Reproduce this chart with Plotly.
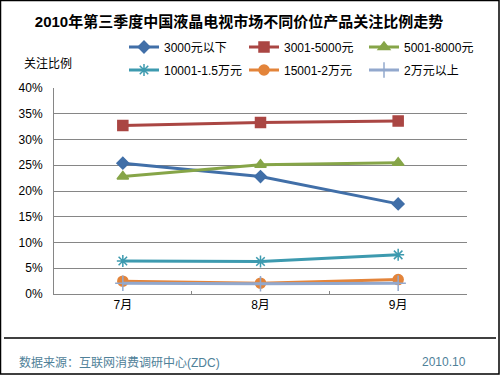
import plotly.graph_objects as go

months = ["7月", "8月", "9月"]
series_names = ["3000元以下", "3001-5000元", "5001-8000元", "10001-1.5万元", "15001-2万元", "2万元以上"]
s1 = [0.254, 0.228, 0.175]
s2 = [0.327, 0.333, 0.336]
s3 = [0.228, 0.251, 0.255]
s4 = [0.064, 0.063, 0.076]
s5 = [0.025, 0.021, 0.028]
s6 = [0.021, 0.020, 0.021]
values = [s1, s2, s3, s4, s5, s6]
y_ticks = [0, 0.05, 0.10, 0.15, 0.20, 0.25, 0.30, 0.35, 0.40]

colors = ["#416FA8", "#AA4643", "#86A548", "#3D9AAF", "#E3843A", "#92A8CD"]
symbols = ["diamond", "square", "triangle-up", "asterisk-open", "circle", "cross-thin-open"]
sizes = [9, 10, 10, 10, 10, 11]

FONT = "Liberation Sans, Arial, Noto Sans CJK SC, sans-serif"

W, H = 500, 375
L, R, T, B = 54, 33, 88, 81
pw, ph = W - L - R, H - T - B

def px_x(px):
    return (px - L) / pw

def px_y(py):
    return (H - B - py) / ph

legend_ids = ["legend", "legend2", "legend3", "legend4", "legend5", "legend6"]
legend_cols = [124, 244, 364]
legend_rows = [47, 70]

fig = go.Figure()
for i, (name, vals, c, sym, sz) in enumerate(zip(series_names, values, colors, symbols, sizes)):
    fig.add_trace(go.Scatter(
        x=months, y=vals, name=name, mode="lines+markers",
        line=dict(color=c, width=3),
        marker=dict(symbol=sym, size=sz, color=c, line=dict(color=c, width=1.5)),
        legend=legend_ids[i],
    ))

layout_legends = {}
for i, lid in enumerate(legend_ids):
    layout_legends[lid] = dict(
        orientation="v", x=px_x(legend_cols[i % 3]), xanchor="left",
        y=px_y(legend_rows[i // 3]), yanchor="middle",
        font=dict(family=FONT, size=12, color="black"),
        bgcolor="rgba(0,0,0,0)",
    )

fig.update_layout(
    width=W, height=H,
    margin=dict(l=L, r=R, t=T, b=B),
    paper_bgcolor="white", plot_bgcolor="white",
    font=dict(family=FONT, size=12, color="black"),
    showlegend=True,
    title=dict(text="<b>2010年第三季度中国液晶电视市场不同价位产品关注比例走势</b>",
               x=239 / W, xanchor="center", y=1 - 22 / H, yanchor="middle",
               font=dict(family=FONT, size=15, color="black")),
    xaxis=dict(
        type="category", range=[-0.5, 2.5], showgrid=False,
        showline=True, linecolor="#868686", linewidth=1,
        ticks="inside", ticklen=3, tickcolor="#868686", tickson="boundaries",
        tickfont=dict(family=FONT, size=12, color="black"),
        fixedrange=True,
    ),
    yaxis=dict(
        range=[0, 0.40], tickvals=y_ticks, tickformat=".0%",
        showgrid=True, gridcolor="#868686", gridwidth=1,
        showline=True, linecolor="#868686", linewidth=1,
        ticks="", zeroline=False,
        tickfont=dict(family=FONT, size=12, color="black"),
        ticklabelstandoff=8, fixedrange=True,
    ),
    annotations=[
        dict(text="关注比例", xref="paper", yref="paper", x=px_x(22), y=px_y(63),
             xanchor="left", yanchor="middle", showarrow=False,
             font=dict(family=FONT, size=12, color="black")),
        dict(text="数据来源：互联网消费调研中心(ZDC)", xref="paper", yref="paper",
             x=px_x(17), y=px_y(362), xanchor="left", yanchor="middle", showarrow=False,
             font=dict(family=FONT, size=12, color="#4F8199")),
        dict(text="2010.10", xref="paper", yref="paper",
             x=px_x(468), y=px_y(362), xanchor="right", yanchor="middle", showarrow=False,
             font=dict(family=FONT, size=12, color="#4F8199")),
    ],
    shapes=[
        dict(type="line", xref="paper", yref="paper", x0=px_x(4), x1=px_x(496),
             y0=px_y(338), y1=px_y(338), line=dict(color="black", width=1.5)),
        dict(type="rect", xref="paper", yref="paper", x0=px_x(0.5), x1=px_x(499),
             y0=px_y(0.5), y1=px_y(374), line=dict(color="black", width=1.5)),
    ],
    **layout_legends,
)

fig.write_html("out.html", config={"displayModeBar": False},
               post_script="document.body.style.margin='0';document.body.style.overflow='hidden';")
